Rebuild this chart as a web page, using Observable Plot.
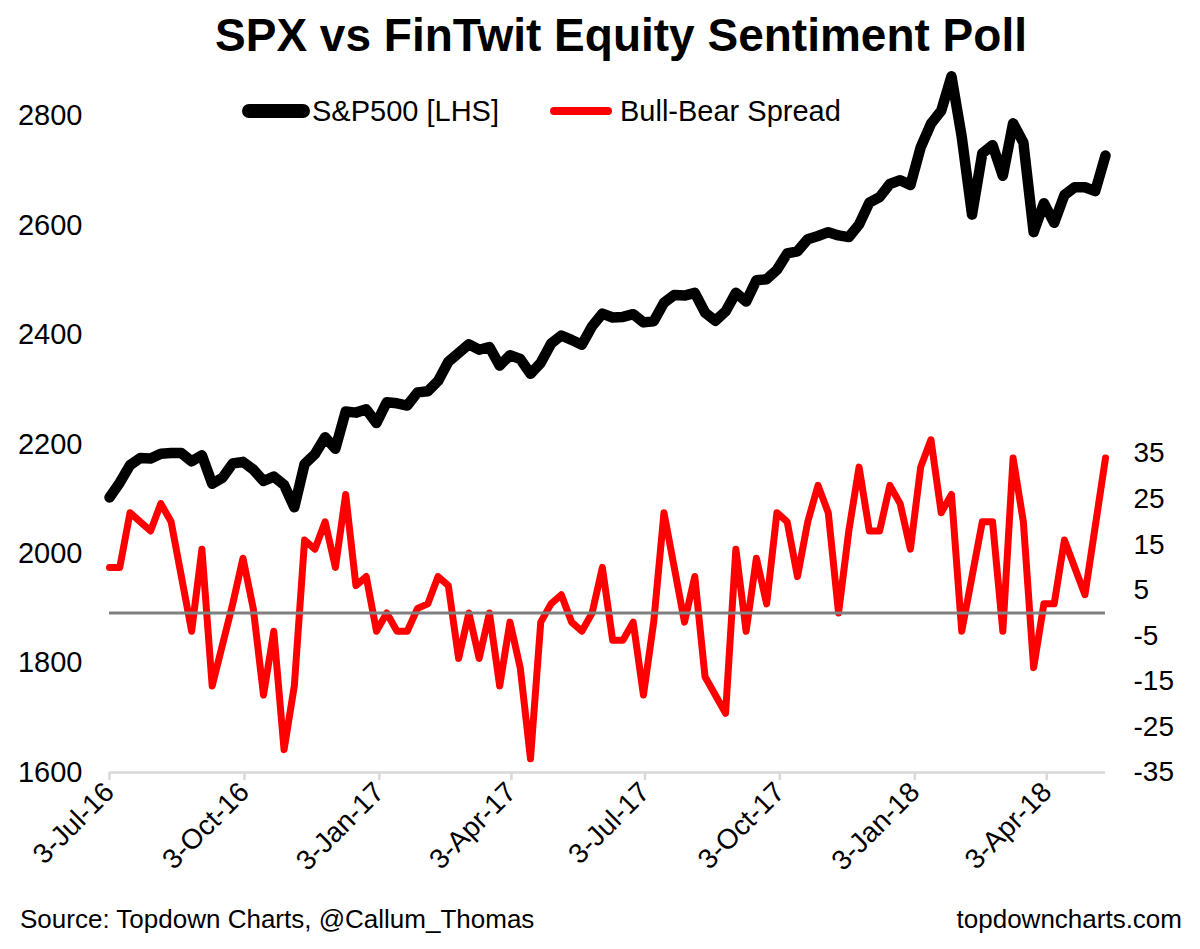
<!DOCTYPE html>
<html>
<head>
<meta charset="utf-8">
<script src="https://cdn.jsdelivr.net/npm/d3@7"></script>
<script src="https://cdn.jsdelivr.net/npm/@observablehq/plot@0.6"></script>
<style>
  html, body { margin: 0; padding: 0; background: #fff; }
  body { font-family: Arial, "Liberation Sans", sans-serif; color: #000; }
  #wrap { position: relative; width: 1200px; height: 949px; overflow: hidden; }
  #chart { position: absolute; left: 0; top: 0; }
  .abs { position: absolute; white-space: nowrap; line-height: 1; }
  #title { left: 21px; top: 12px; width: 1200px; text-align: center; font-weight: bold; font-size: 46px; }
  .leg-text { font-size: 29px; top: 97px; }
  .swatch { position: absolute; }
  .foot { font-size: 26px; top: 906px; }
</style>
</head>
<body>
<div id="wrap">
  <div id="chart"></div>
  <div id="title" class="abs">SPX vs FinTwit Equity Sentiment Poll</div>
  <div class="swatch" style="left:242px;top:104px;width:68px;height:14px;border-radius:7px;background:#000"></div>
  <div class="abs leg-text" style="left:312px">S&amp;P500 [LHS]</div>
  <div class="swatch" style="left:550px;top:107px;width:62px;height:8px;border-radius:4px;background:#ff0000"></div>
  <div class="abs leg-text" style="left:620px">Bull-Bear Spread</div>
  <div class="abs foot" style="left:20px">Source: Topdown Charts, @Callum_Thomas</div>
  <div class="abs foot" style="right:18px">topdowncharts.com</div>
</div>
<script>
// Weekly observations, first week 3-Jul-16, last week 13-May-18
const startWeek = "2016-07-03";
const endWeek = "2018-05-13";

// S&P 500 (left axis)
const spx = [2103,2130,2162,2175,2174,2183,2184,2184,2169,2180,
  2128,2139,2165,2168,2154,2133,2141,2126,2085,2164,
  2182,2213,2192,2260,2258,2264,2239,2277,2275,2271,
  2295,2297,2316,2351,2367,2383,2373,2378,2344,2363,
  2356,2329,2349,2384,2399,2391,2382,2416,2439,2432,
  2433,2438,2423,2425,2459,2473,2472,2477,2441,2426,
  2443,2477,2461,2500,2502,2519,2549,2553,2575,2581,
  2588,2582,2579,2602,2642,2652,2676,2683,2674,2743,
  2786,2810,2873,2762,2620,2732,2747,2691,2787,2752,
  2588,2641,2605,2656,2670,2670,2663,2728];

// Bull-Bear spread (right axis)
const spread = [10,10,22,20,18,24,20,8,-4,14,
  -16,-7,2,12,1,-18,-4,-30,-16,16,
  14,20,10,26,6,8,-4,0,-4,-4,
  1,2,8,6,-10,0,-10,0,-16,-2,
  -12,-32,-2,2,4,-2,-4,0,10,-6,
  -6,-2,-18,-2,22,10,-2,8,-14,-18,
  -22,14,-4,12,2,22,20,8,20,28,
  22,0,18,32,18,18,28,24,14,32,
  38,22,26,-4,8,20,20,-4,34,20,
  -12,2,2,16,10,4,19,34];

// Axis ticks
const xTicks = ["2016-07-03","2016-10-03","2017-01-03","2017-04-03","2017-07-03","2017-10-03","2018-01-03","2018-04-03"];
const leftTicks = [1600,1800,2000,2200,2400,2600,2800];
const rightTicks = [-35,-25,-15,-5,5,15,25,35];

const leftDomain = [1600, 2900];
// right axis: -35 aligned with 1600 on the left; 1 spread point = 25/3 S&P points
const rightMin = -35, rightScale = 25 / 3;
const toLeft = v => leftDomain[0] + (v - rightMin) * rightScale;
const fromLeft = y => (y - leftDomain[0]) / rightScale + rightMin;

const dates = d3.utcWeek.range(new Date(startWeek), d3.utcDay.offset(new Date(endWeek), 1));
const data = dates.map((date, i) => ({date, spx: spx[i], spread: spread[i]}));
const fmt = d3.utcFormat("%-d-%b-%y");

const chart = Plot.plot({
  width: 1200,
  height: 949,
  marginLeft: 109,
  marginRight: 95,
  marginTop: 61,
  marginBottom: 177,
  style: {fontFamily: "Arial, 'Liberation Sans', sans-serif", fontSize: "28px", color: "#000", background: "#fff", overflow: "visible"},
  x: {type: "utc", domain: [dates[0], dates[dates.length - 1]]},
  y: {domain: leftDomain},
  marks: [
    Plot.ruleY([leftDomain[0]], {stroke: "#d9d9d9", strokeWidth: 2.5}),
    Plot.axisX(xTicks.map(d => new Date(d)), {
      anchor: "bottom", tickSize: 8, tickPadding: 7, tickRotate: -45,
      tickFormat: fmt, stroke: "#d9d9d9", strokeWidth: 2.5, fill: "#000", fontSize: 28, label: null
    }),
    Plot.axisY(leftTicks, {anchor: "left", tickSize: 0, tickPadding: 27, tickFormat: d => String(d), fontSize: 29, label: null}),
    Plot.axisY(rightTicks.map(toLeft), {anchor: "right", tickSize: 0, tickPadding: 28,
      tickFormat: d => String(Math.round(fromLeft(d))), fontSize: 28, label: null}),
    Plot.line(data, {x: "date", y: "spx", stroke: "#000", strokeWidth: 10.5, strokeLinejoin: "round", strokeLinecap: "round"}),
    Plot.line(data, {x: "date", y: d => toLeft(d.spread), stroke: "#ff0000", strokeWidth: 7, strokeLinejoin: "round", strokeLinecap: "round"}),
    Plot.ruleY([0], {y: toLeft, stroke: "#808080", strokeWidth: 3})
  ]
});
document.getElementById("chart").appendChild(chart);
</script>
</body>
</html>
